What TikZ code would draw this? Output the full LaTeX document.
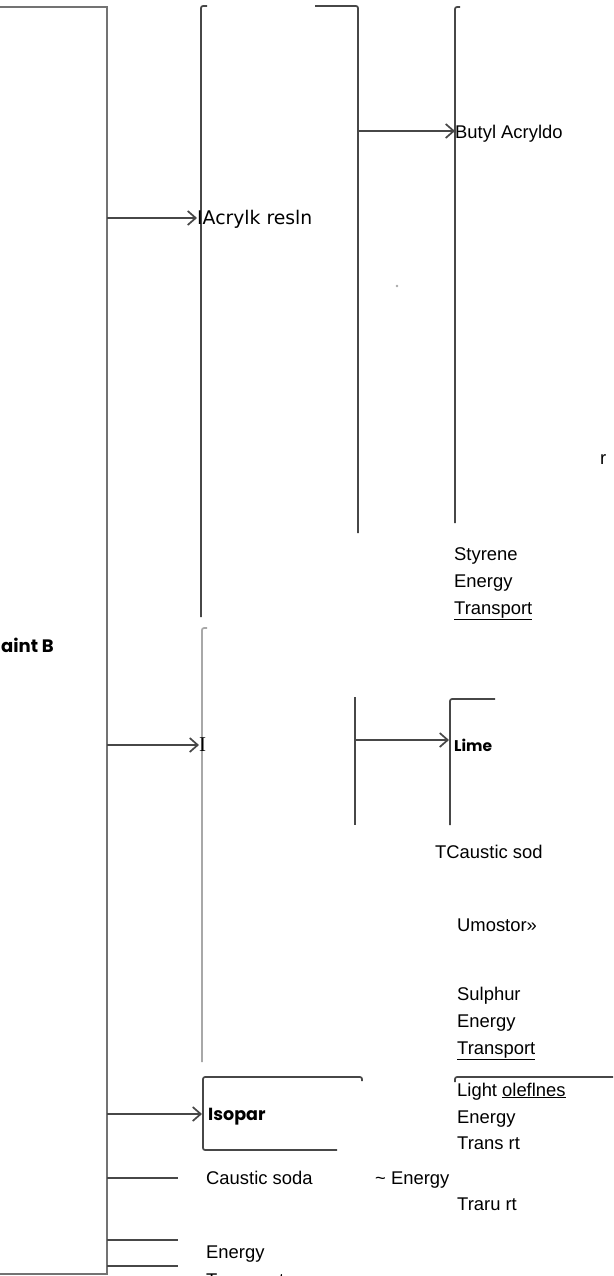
\documentclass[tikz,border=0pt]{standalone}
\usepackage{fontspec}
\setmainfont{Liberation Sans}
\newfontfamily\verdfont{DejaVu Sans}
\newfontfamily\geofont{Poppins}
\newfontfamily\romfont{Liberation Serif}
\usetikzlibrary{arrows.meta}
\definecolor{inkdark}{gray}{0.28}
\definecolor{inkmid}{gray}{0.45}
\definecolor{inklight}{gray}{0.66}
\begin{document}
\begin{tikzpicture}[x=1pt,y=-1pt,
  ln/.style={line width=1.7pt,inkdark,rounded corners=2pt},
  lnmid/.style={line width=1.7pt,inkmid,rounded corners=2pt},
  lnlight/.style={line width=1.7pt,inklight,rounded corners=2pt},
  arr/.style={line width=1.7pt,inkdark,-{Straight Barb[length=8pt,width=14pt,line width=1.7pt]}},
  txt/.style={anchor=base west,inner sep=0pt,font=\fontsize{18.4}{22}\selectfont},
  vtxt/.style={anchor=base west,inner sep=0pt,font=\verdfont\fontsize{18.8}{22}\selectfont},
  gtxt/.style={anchor=base west,inner sep=0pt,font=\geofont\bfseries\fontsize{15.5}{19}\selectfont}]
\useasboundingbox (0,0) rectangle (613,1276);
\clip (0,0) rectangle (613,1276);

% main block on the left
\draw[lnmid,rounded corners=0pt] (0,7) -- (107,7) -- (107,1274) -- (0,1274);
\node[gtxt,font=\geofont\bfseries\fontsize{18}{22}\selectfont] (paint) at (1,652) {aint B};

% branch points on the main block
\coordinate (m1) at (107,218);
\coordinate (m2) at (107,745);
\coordinate (m3) at (107,1114);
\coordinate (m4) at (107,1178);
\coordinate (m5) at (107,1240);
\coordinate (m6) at (107,1266);

% second-level brackets
\draw[ln] (207,6) -- (201,6) -- (201,617);
\draw[lnlight] (207,628) -- (202,628) -- (202,1062);

% acrylic resin branch
\node[vtxt] (acryl) at (197,224) {IAcrylk resln};
\draw[arr] (m1) -- (m1 -| acryl.west);

% third-level bracket and butyl acrylate
\draw[ln] (315,6) -- (358,6) -- (358,533);
\coordinate (b1) at (358,131);
\draw[ln] (460,7) -- (455,7) -- (455,523);
\node[txt] (butyl) at (455,139) {Butyl Acryldo};
\draw[arr] (b1) -- (b1 -| butyl.west);
\fill[inklight] (397,286) circle (1.3pt);
\node[txt] (rr) at (600,464) {r};

\node[txt] (sty1) at (454,560) {Styrene};
\node[txt] (sty2) at (454,587) {Energy};
\node[txt] (sty3) at (454,614) {\underline{Transport}};

% second branch with the serif marker
\node[anchor=base west,inner sep=0pt,font=\romfont\fontsize{21}{24}\selectfont] (ibar) at (199,751) {I};
\draw[arr] (m2) -- (m2 -| ibar.west);

% lime branch
\draw[ln] (355,697) -- (355,825);
\coordinate (l1) at (355,740);
\draw[ln] (495,699) -- (450,699) -- (450,825);
\node[gtxt] (lime) at (454,751) {Lime};
\draw[arr] (l1) -- (449,740);

\node[txt] (caus) at (435,858) {TCaustic sod};
\node[txt] (umo) at (457,931) {Umostor»};
\node[txt] (sul1) at (457,1000) {Sulphur};
\node[txt] (sul2) at (457,1027) {Energy};
\node[txt] (sul3) at (457,1054) {\underline{Transport}};

% isopar box
\draw[ln] (362,1081) -- (362,1077) -- (203,1077) -- (203,1150) -- (337,1150);
\node[gtxt,font=\geofont\bfseries\fontsize{17.5}{20}\selectfont] (isopar) at (208,1120) {Isopar};
\draw[arr] (m3) -- (202,1114);

% light olefines box
\draw[ln] (455,1082) -- (455,1077) -- (613,1077);
\node[txt] (ole1) at (457,1096) {Light \underline{oleflnes}};
\node[txt] (ole2) at (457,1123) {Energy};
\node[txt] (ole3) at (457,1149) {Trans rt};

% plain feeds at the bottom
\coordinate (e4) at (178,1178);
\coordinate (e5) at (178,1240);
\coordinate (e6) at (178,1266);
\draw[ln] (m4) -- (e4);
\draw[ln] (m5) -- (e5);
\draw[ln] (m6) -- (e6);
\node[txt] (csoda) at (206,1184) {Caustic soda};
\node[txt] (en1) at (375,1184) {\textasciitilde{} Energy};
\node[txt] (tr1) at (457,1210) {Traru rt};
\node[txt] (en2) at (206,1258) {Energy};
\node[txt] (tr2) at (206,1286) {Transport};
\end{tikzpicture}
\end{document}
